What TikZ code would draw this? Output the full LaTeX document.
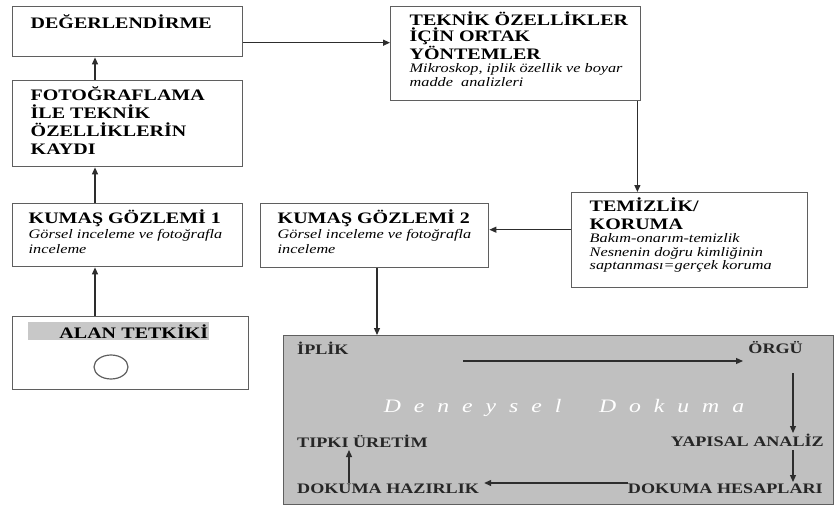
\documentclass[tikz,border=0pt]{standalone}
\usepackage{fontspec}
\setmainfont{Liberation Serif}[FakeStretch=1.25]
\usetikzlibrary{arrows.meta,shapes.geometric,calc}
\definecolor{boxline}{RGB}{95,95,95}
\definecolor{arrowc}{RGB}{45,45,45}
\definecolor{panelc}{RGB}{192,192,192}
\definecolor{hilite}{RGB}{200,200,200}
\newcommand{\ttl}{\fontsize{16}{17.5}\selectfont\bfseries}
\newcommand{\boxtxt}[5]{\begin{minipage}[t][#2][t]{#1}\leftskip=#3\rightskip=0pt plus 1fil\parindent=0pt\vspace*{#4}#5\end{minipage}}
\tikzset{
  box/.style={draw=boxline, line width=1.4pt, fill=white, inner sep=0pt, anchor=north west},
  arr/.style={draw=arrowc, line width=1.2pt, -{Triangle[length=7pt,width=6pt]}},
  lbl/.style={inner sep=0pt, font=\fontsize{14.5}{17}\selectfont\bfseries, text=black!85}
}
\begin{document}
\begin{tikzpicture}[x=1pt,y=-1pt]
\useasboundingbox (0,0) rectangle (835,508);
\fill[white] (0,0) rectangle (835,508);

\node[box] (deg) at (12,6) {\boxtxt{230pt}{50pt}{18pt}{8pt}{\ttl DEĞERLENDİRME}};
\node[box] (foto) at (12,80) {\boxtxt{230pt}{86pt}{18pt}{6pt}{\fontsize{16}{18}\selectfont\bfseries FOTOĞRAFLAMA\\ İLE TEKNİK\\ ÖZELLİKLERİN\\ KAYDI}};
\node[box] (teknik) at (390,6) {\boxtxt{250pt}{94pt}{19pt}{5pt}{{\fontsize{16}{16}\selectfont\bfseries TEKNİK ÖZELLİKLER\\ İÇİN ORTAK\\ YÖNTEMLER\par}{\fontsize{13}{13.5}\selectfont\itshape Mikroskop, iplik özellik ve boyar\\ madde\ \ analizleri\par}}};
\node[box] (temiz) at (571,192) {\boxtxt{236pt}{95pt}{18pt}{5pt}{{\fontsize{16}{18}\selectfont\bfseries TEMİZLİK/\\ KORUMA\par}{\fontsize{13}{13.5}\selectfont\itshape Bakım-onarım-temizlik\\ Nesnenin doğru kimliğinin\\ saptanması=gerçek koruma\par}}};
\node[box] (kg2) at (260,203) {\boxtxt{228pt}{64pt}{17pt}{6pt}{{\ttl KUMAŞ GÖZLEMİ 2\par}{\fontsize{13}{15}\selectfont\itshape Görsel inceleme ve fotoğrafla\\ inceleme\par}}};
\node[box] (kg1) at (12,203) {\boxtxt{230pt}{63pt}{16pt}{6pt}{{\ttl KUMAŞ GÖZLEMİ 1\par}{\fontsize{13}{15}\selectfont\itshape Görsel inceleme ve fotoğrafla\\ inceleme\par}}};
\node[box, minimum width=236pt, minimum height=73pt] (alan) at (12,316) {};
\node[fill=hilite, inner sep=0pt, minimum width=181pt, minimum height=18pt, text width=179pt, align=right, anchor=north west, font=\fontsize{16}{17}\selectfont\bfseries] (alantxt) at (28,322) {ALAN TETKİKİ};
\node[draw=boxline, line width=1.2pt, ellipse, minimum width=34pt, minimum height=24pt, inner sep=0pt] (circ) at (111,367) {};

\node[draw=boxline, line width=1.4pt, fill=panelc, anchor=north west, minimum width=550pt, minimum height=169pt, inner sep=0pt] (panel) at (283,335) {};

\node[lbl, anchor=base west] (iplik) at (297,354) {İPLİK};
\node[lbl, anchor=base east] (orgu) at (803,353) {ÖRGÜ};
\node[lbl, anchor=base east] (yapisal) at (824,446) {YAPISAL ANALİZ};
\node[lbl, anchor=base east] (hesap) at (823,493) {DOKUMA HESAPLARI};
\node[lbl, anchor=base west] (hazir) at (297,493) {DOKUMA HAZIRLIK};
\node[lbl, anchor=base west] (tipki) at (297,447) {TIPKI ÜRETİM};
\node[inner sep=0pt, anchor=base, text=white, font=\fontsize{19}{19}\selectfont\itshape\addfontfeatures{LetterSpace=68}] (deneysel) at (564,412) {Deneysel\ \ Dokuma};

% top arrows
\draw[arr] ($(foto.north west)+(83,0)$) -- ($(deg.south west)+(83,0)$);
\draw[arr] ($(kg1.north west)+(83,0)$) -- ($(foto.south west)+(83,0)$);
\draw[arr] ($(alan.north west)+(83,0)$) -- ($(kg1.south west)+(83,0)$);
\coordinate (de) at ($(deg.east)+(0,11)$);
\draw[arr] (de) -- (de -| teknik.west);
\coordinate (tkx) at ($(teknik.south east)+(-4,0)$);
\draw[arr] (tkx) -- (tkx |- temiz.north);
\coordinate (k2e) at ($(kg2.east)+(0,-6)$);
\draw[arr] (k2e -| temiz.west) -- (k2e);
\coordinate (k2s) at ($(kg2.south west)+(117,0)$);
\draw[arr] (k2s) -- (k2s |- panel.north);

% panel arrows
\draw[arr] ($(iplik.base west)+(166,7)$) -- ($(orgu.base east)+(-60,8)$);
\draw[arr] ($(orgu.base east)+(-10,20)$) -- ($(yapisal.base east)+(-31,-13)$);
\draw[arr] ($(yapisal.base east)+(-31,4)$) -- ($(hesap.base east)+(-30,-11)$);
\draw[arr] ($(hesap.base west)+(0,-10)$) -- ($(hazir.base east)+(5,-10)$);
\draw[arr] ($(hazir.base west)+(52,-10)$) -- ($(tipki.base west)+(52,3)$);
\end{tikzpicture}
\end{document}
